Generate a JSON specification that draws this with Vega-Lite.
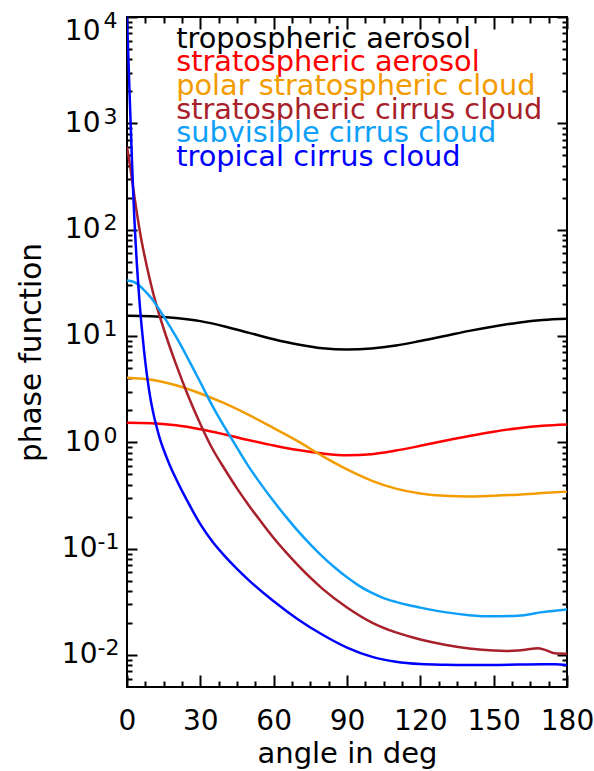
{
  "$schema": "https://vega.github.io/schema/vega-lite/v6.json",
  "width": 440,
  "height": 670,
  "autosize": {"type": "none"},
  "padding": {"left": 127, "top": 17, "right": 27, "bottom": 84},
  "background": "white",
  "config": {
    "view": {"stroke": "black", "strokeWidth": 2},
    "font": "DejaVu Sans",
    "axis": {
      "grid": false,
      "domain": false,
      "tickColor": "black",
      "tickWidth": 2,
      "labelColor": "black",
      "titleColor": "black",
      "titleFontWeight": "normal",
      "labelFont": "DejaVu Sans",
      "titleFont": "DejaVu Sans"
    }
  },
  "datasets": {
    "names": [
      {"s": "tropospheric aerosol"},
      {"s": "stratospheric aerosol"},
      {"s": "polar stratospheric cloud"},
      {"s": "stratospheric cirrus cloud"},
      {"s": "subvisible cirrus cloud"},
      {"s": "tropical cirrus cloud"}
    ],
    "curves": [
      {"s": "tropospheric aerosol", "a": 0, "p": 15.5},
      {"s": "tropospheric aerosol", "a": 10, "p": 15.35},
      {"s": "tropospheric aerosol", "a": 20, "p": 14.8},
      {"s": "tropospheric aerosol", "a": 30, "p": 13.8},
      {"s": "tropospheric aerosol", "a": 40, "p": 12.3},
      {"s": "tropospheric aerosol", "a": 50, "p": 10.7},
      {"s": "tropospheric aerosol", "a": 60, "p": 9.33},
      {"s": "tropospheric aerosol", "a": 70, "p": 8.32},
      {"s": "tropospheric aerosol", "a": 80, "p": 7.67},
      {"s": "tropospheric aerosol", "a": 90, "p": 7.45},
      {"s": "tropospheric aerosol", "a": 100, "p": 7.62},
      {"s": "tropospheric aerosol", "a": 110, "p": 8.13},
      {"s": "tropospheric aerosol", "a": 120, "p": 8.97},
      {"s": "tropospheric aerosol", "a": 130, "p": 10.0},
      {"s": "tropospheric aerosol", "a": 140, "p": 11.17},
      {"s": "tropospheric aerosol", "a": 150, "p": 12.3},
      {"s": "tropospheric aerosol", "a": 160, "p": 13.34},
      {"s": "tropospheric aerosol", "a": 170, "p": 14.13},
      {"s": "tropospheric aerosol", "a": 180, "p": 14.52},

      {"s": "stratospheric aerosol", "a": 0, "p": 1.531},
      {"s": "stratospheric aerosol", "a": 10, "p": 1.514},
      {"s": "stratospheric aerosol", "a": 20, "p": 1.445},
      {"s": "stratospheric aerosol", "a": 30, "p": 1.327},
      {"s": "stratospheric aerosol", "a": 40, "p": 1.186},
      {"s": "stratospheric aerosol", "a": 50, "p": 1.047},
      {"s": "stratospheric aerosol", "a": 60, "p": 0.933},
      {"s": "stratospheric aerosol", "a": 70, "p": 0.845},
      {"s": "stratospheric aerosol", "a": 80, "p": 0.785},
      {"s": "stratospheric aerosol", "a": 90, "p": 0.755},
      {"s": "stratospheric aerosol", "a": 100, "p": 0.773},
      {"s": "stratospheric aerosol", "a": 110, "p": 0.836},
      {"s": "stratospheric aerosol", "a": 120, "p": 0.927},
      {"s": "stratospheric aerosol", "a": 130, "p": 1.035},
      {"s": "stratospheric aerosol", "a": 140, "p": 1.148},
      {"s": "stratospheric aerosol", "a": 150, "p": 1.259},
      {"s": "stratospheric aerosol", "a": 160, "p": 1.355},
      {"s": "stratospheric aerosol", "a": 170, "p": 1.429},
      {"s": "stratospheric aerosol", "a": 180, "p": 1.472},

      {"s": "polar stratospheric cloud", "a": 0, "p": 4.04},
      {"s": "polar stratospheric cloud", "a": 10, "p": 3.87},
      {"s": "polar stratospheric cloud", "a": 20, "p": 3.44},
      {"s": "polar stratospheric cloud", "a": 30, "p": 2.88},
      {"s": "polar stratospheric cloud", "a": 40, "p": 2.32},
      {"s": "polar stratospheric cloud", "a": 50, "p": 1.8},
      {"s": "polar stratospheric cloud", "a": 60, "p": 1.36},
      {"s": "polar stratospheric cloud", "a": 70, "p": 1.02},
      {"s": "polar stratospheric cloud", "a": 80, "p": 0.741},
      {"s": "polar stratospheric cloud", "a": 90, "p": 0.556},
      {"s": "polar stratospheric cloud", "a": 100, "p": 0.437},
      {"s": "polar stratospheric cloud", "a": 110, "p": 0.367},
      {"s": "polar stratospheric cloud", "a": 120, "p": 0.33},
      {"s": "polar stratospheric cloud", "a": 130, "p": 0.314},
      {"s": "polar stratospheric cloud", "a": 140, "p": 0.31},
      {"s": "polar stratospheric cloud", "a": 150, "p": 0.315},
      {"s": "polar stratospheric cloud", "a": 160, "p": 0.322},
      {"s": "polar stratospheric cloud", "a": 170, "p": 0.333},
      {"s": "polar stratospheric cloud", "a": 180, "p": 0.344},

      {"s": "stratospheric cirrus cloud", "a": 0, "p": 600},
      {"s": "stratospheric cirrus cloud", "a": 1, "p": 434.5},
      {"s": "stratospheric cirrus cloud", "a": 2, "p": 300.6},
      {"s": "stratospheric cirrus cloud", "a": 3, "p": 208},
      {"s": "stratospheric cirrus cloud", "a": 4, "p": 145.5},
      {"s": "stratospheric cirrus cloud", "a": 5, "p": 104.2},
      {"s": "stratospheric cirrus cloud", "a": 6, "p": 77.3},
      {"s": "stratospheric cirrus cloud", "a": 8, "p": 46.6},
      {"s": "stratospheric cirrus cloud", "a": 10, "p": 29.4},
      {"s": "stratospheric cirrus cloud", "a": 12, "p": 19.6},
      {"s": "stratospheric cirrus cloud", "a": 15, "p": 11.7},
      {"s": "stratospheric cirrus cloud", "a": 20, "p": 5.46},
      {"s": "stratospheric cirrus cloud", "a": 25, "p": 2.74},
      {"s": "stratospheric cirrus cloud", "a": 30, "p": 1.49},
      {"s": "stratospheric cirrus cloud", "a": 35, "p": 0.865},
      {"s": "stratospheric cirrus cloud", "a": 40, "p": 0.558},
      {"s": "stratospheric cirrus cloud", "a": 45, "p": 0.369},
      {"s": "stratospheric cirrus cloud", "a": 50, "p": 0.252},
      {"s": "stratospheric cirrus cloud", "a": 55, "p": 0.177},
      {"s": "stratospheric cirrus cloud", "a": 60, "p": 0.126},
      {"s": "stratospheric cirrus cloud", "a": 65, "p": 0.0927},
      {"s": "stratospheric cirrus cloud", "a": 70, "p": 0.0695},
      {"s": "stratospheric cirrus cloud", "a": 80, "p": 0.0419},
      {"s": "stratospheric cirrus cloud", "a": 90, "p": 0.028},
      {"s": "stratospheric cirrus cloud", "a": 100, "p": 0.0203},
      {"s": "stratospheric cirrus cloud", "a": 110, "p": 0.0163},
      {"s": "stratospheric cirrus cloud", "a": 120, "p": 0.014},
      {"s": "stratospheric cirrus cloud", "a": 130, "p": 0.0125},
      {"s": "stratospheric cirrus cloud", "a": 140, "p": 0.01153},
      {"s": "stratospheric cirrus cloud", "a": 150, "p": 0.0110},
      {"s": "stratospheric cirrus cloud", "a": 155, "p": 0.01091},
      {"s": "stratospheric cirrus cloud", "a": 160, "p": 0.0110},
      {"s": "stratospheric cirrus cloud", "a": 165, "p": 0.0114},
      {"s": "stratospheric cirrus cloud", "a": 168, "p": 0.01156},
      {"s": "stratospheric cirrus cloud", "a": 171, "p": 0.01117},
      {"s": "stratospheric cirrus cloud", "a": 175, "p": 0.01038},
      {"s": "stratospheric cirrus cloud", "a": 180, "p": 0.01028},

      {"s": "subvisible cirrus cloud", "a": 0, "p": 33.3},
      {"s": "subvisible cirrus cloud", "a": 2.5, "p": 32.4},
      {"s": "subvisible cirrus cloud", "a": 5, "p": 29.9},
      {"s": "subvisible cirrus cloud", "a": 7.5, "p": 26.3},
      {"s": "subvisible cirrus cloud", "a": 10, "p": 22.6},
      {"s": "subvisible cirrus cloud", "a": 12.5, "p": 18.8},
      {"s": "subvisible cirrus cloud", "a": 15, "p": 15.3},
      {"s": "subvisible cirrus cloud", "a": 20, "p": 9.9},
      {"s": "subvisible cirrus cloud", "a": 25, "p": 6.1},
      {"s": "subvisible cirrus cloud", "a": 30, "p": 3.67},
      {"s": "subvisible cirrus cloud", "a": 35, "p": 2.19},
      {"s": "subvisible cirrus cloud", "a": 40, "p": 1.38},
      {"s": "subvisible cirrus cloud", "a": 45, "p": 0.891},
      {"s": "subvisible cirrus cloud", "a": 50, "p": 0.582},
      {"s": "subvisible cirrus cloud", "a": 55, "p": 0.398},
      {"s": "subvisible cirrus cloud", "a": 60, "p": 0.279},
      {"s": "subvisible cirrus cloud", "a": 65, "p": 0.2},
      {"s": "subvisible cirrus cloud", "a": 70, "p": 0.146},
      {"s": "subvisible cirrus cloud", "a": 75, "p": 0.1096},
      {"s": "subvisible cirrus cloud", "a": 80, "p": 0.0841},
      {"s": "subvisible cirrus cloud", "a": 85, "p": 0.0664},
      {"s": "subvisible cirrus cloud", "a": 90, "p": 0.0537},
      {"s": "subvisible cirrus cloud", "a": 95, "p": 0.0447},
      {"s": "subvisible cirrus cloud", "a": 100, "p": 0.0385},
      {"s": "subvisible cirrus cloud", "a": 105, "p": 0.0343},
      {"s": "subvisible cirrus cloud", "a": 110, "p": 0.0316},
      {"s": "subvisible cirrus cloud", "a": 115, "p": 0.0295},
      {"s": "subvisible cirrus cloud", "a": 120, "p": 0.0279},
      {"s": "subvisible cirrus cloud", "a": 130, "p": 0.0253},
      {"s": "subvisible cirrus cloud", "a": 140, "p": 0.0237},
      {"s": "subvisible cirrus cloud", "a": 150, "p": 0.0231},
      {"s": "subvisible cirrus cloud", "a": 160, "p": 0.0234},
      {"s": "subvisible cirrus cloud", "a": 170, "p": 0.0253},
      {"s": "subvisible cirrus cloud", "a": 180, "p": 0.0268},

      {"s": "tropical cirrus cloud", "a": 0, "p": 10000},
      {"s": "tropical cirrus cloud", "a": 0.5, "p": 4571},
      {"s": "tropical cirrus cloud", "a": 1, "p": 2089},
      {"s": "tropical cirrus cloud", "a": 1.5, "p": 977},
      {"s": "tropical cirrus cloud", "a": 2, "p": 468},
      {"s": "tropical cirrus cloud", "a": 2.5, "p": 234},
      {"s": "tropical cirrus cloud", "a": 3, "p": 129},
      {"s": "tropical cirrus cloud", "a": 3.5, "p": 77.6},
      {"s": "tropical cirrus cloud", "a": 4, "p": 49},
      {"s": "tropical cirrus cloud", "a": 4.5, "p": 33.1},
      {"s": "tropical cirrus cloud", "a": 5, "p": 22.9},
      {"s": "tropical cirrus cloud", "a": 5.5, "p": 16.4},
      {"s": "tropical cirrus cloud", "a": 6, "p": 12.2},
      {"s": "tropical cirrus cloud", "a": 7, "p": 7.16},
      {"s": "tropical cirrus cloud", "a": 8, "p": 4.57},
      {"s": "tropical cirrus cloud", "a": 9, "p": 3.13},
      {"s": "tropical cirrus cloud", "a": 10, "p": 2.29},
      {"s": "tropical cirrus cloud", "a": 11, "p": 1.78},
      {"s": "tropical cirrus cloud", "a": 12, "p": 1.43},
      {"s": "tropical cirrus cloud", "a": 13.5, "p": 1.07},
      {"s": "tropical cirrus cloud", "a": 15, "p": 0.851},
      {"s": "tropical cirrus cloud", "a": 17.5, "p": 0.61},
      {"s": "tropical cirrus cloud", "a": 20, "p": 0.457},
      {"s": "tropical cirrus cloud", "a": 25, "p": 0.272},
      {"s": "tropical cirrus cloud", "a": 30, "p": 0.17},
      {"s": "tropical cirrus cloud", "a": 35, "p": 0.116},
      {"s": "tropical cirrus cloud", "a": 40, "p": 0.0851},
      {"s": "tropical cirrus cloud", "a": 45, "p": 0.0646},
      {"s": "tropical cirrus cloud", "a": 50, "p": 0.0501},
      {"s": "tropical cirrus cloud", "a": 60, "p": 0.032},
      {"s": "tropical cirrus cloud", "a": 70, "p": 0.0216},
      {"s": "tropical cirrus cloud", "a": 80, "p": 0.0155},
      {"s": "tropical cirrus cloud", "a": 90, "p": 0.01175},
      {"s": "tropical cirrus cloud", "a": 100, "p": 0.00966},
      {"s": "tropical cirrus cloud", "a": 110, "p": 0.00865},
      {"s": "tropical cirrus cloud", "a": 120, "p": 0.00822},
      {"s": "tropical cirrus cloud", "a": 130, "p": 0.00809},
      {"s": "tropical cirrus cloud", "a": 140, "p": 0.00804},
      {"s": "tropical cirrus cloud", "a": 150, "p": 0.00804},
      {"s": "tropical cirrus cloud", "a": 160, "p": 0.00813},
      {"s": "tropical cirrus cloud", "a": 170, "p": 0.00818},
      {"s": "tropical cirrus cloud", "a": 175, "p": 0.00818},
      {"s": "tropical cirrus cloud", "a": 180, "p": 0.00804}
    ]
  },
  "layer": [
    {
      "data": {"name": "curves"},
      "layer": [
        {
          "mark": {"type": "line", "interpolate": "monotone", "strokeWidth": 2.5, "clip": true},
          "encoding": {
            "x": {
              "field": "a", "type": "quantitative",
              "scale": {"domain": [0, 180], "nice": false, "zero": false},
              "axis": {
                "orient": "bottom", "values": [0, 30, 60, 90, 120, 150, 180],
                "ticks": false, "labelPadding": 20, "labelFontSize": 28, "labelFlush": false,
                "labelOverlap": false,
                "title": "angle in deg", "titleFontSize": 29, "titlePadding": 4
              }
            },
            "y": {
              "field": "p", "type": "quantitative",
              "scale": {"type": "log", "domain": [0.005, 10000], "nice": false},
              "axis": {
                "orient": "left", "values": [0.01, 0.1, 1, 10, 100, 1000, 10000],
                "labelExpr": "'10'", "ticks": false,
                "labelPadding": {"condition": {"test": "datum.value < 0.5", "value": 30}, "value": 27},
                "labelFontSize": 28,
                "labelFlush": true, "labelOverlap": false,
                "title": "phase function", "titleFontSize": 29.5, "titlePadding": 15
              }
            },
            "color": {
              "field": "s", "type": "nominal",
              "scale": {
                "domain": ["tropospheric aerosol", "stratospheric aerosol", "polar stratospheric cloud", "stratospheric cirrus cloud", "subvisible cirrus cloud", "tropical cirrus cloud"],
                "range": ["#000000", "#FF0000", "#F39C00", "#A8212A", "#0EA0F8", "#0000FF"]
              },
              "legend": null
            }
          }
        },
        {
          "mark": {"type": "point", "opacity": 0},
          "encoding": {
            "x": {"field": "a", "type": "quantitative",
              "axis": {"orient": "bottom", "offset": -12, "values": [0, 30, 60, 90, 120, 150, 180], "tickSize": 12, "labels": false, "title": null}},
            "y": {"field": "p", "type": "quantitative",
              "axis": {"orient": "left", "offset": -10, "values": [0.01, 0.1, 1, 10, 100, 1000, 10000], "tickSize": 10, "labels": false, "title": null}}
          }
        },
        {
          "mark": {"type": "point", "opacity": 0},
          "encoding": {
            "x": {"field": "a", "type": "quantitative",
              "axis": {"orient": "bottom", "offset": -6, "values": [7.5, 15, 22.5, 37.5, 45, 52.5, 67.5, 75, 82.5, 97.5, 105, 112.5, 127.5, 135, 142.5, 157.5, 165, 172.5], "tickSize": 6, "labels": false, "title": null}},
            "y": {"field": "p", "type": "quantitative",
              "axis": {"orient": "left", "offset": -5, "values": [0.006, 0.007, 0.008, 0.009, 0.02, 0.03, 0.04, 0.05, 0.06, 0.07, 0.08, 0.09, 0.2, 0.3, 0.4, 0.5, 0.6, 0.7, 0.8, 0.9, 2, 3, 4, 5, 6, 7, 8, 9, 20, 30, 40, 50, 60, 70, 80, 90, 200, 300, 400, 500, 600, 700, 800, 900, 2000, 3000, 4000, 5000, 6000, 7000, 8000, 9000], "tickSize": 5, "labels": false, "title": null}}
          }
        },
        {
          "mark": {"type": "point", "opacity": 0},
          "encoding": {
            "x": {"field": "a", "type": "quantitative",
              "axis": {"orient": "top", "offset": -12, "values": [0, 30, 60, 90, 120, 150, 180], "tickSize": 12, "labels": false, "title": null}},
            "y": {"field": "p", "type": "quantitative",
              "axis": {"orient": "right", "offset": -10, "values": [0.01, 0.1, 1, 10, 100, 1000, 10000], "tickSize": 10, "labels": false, "title": null}}
          }
        },
        {
          "mark": {"type": "point", "opacity": 0},
          "encoding": {
            "x": {"field": "a", "type": "quantitative",
              "axis": {"orient": "top", "offset": -6, "values": [7.5, 15, 22.5, 37.5, 45, 52.5, 67.5, 75, 82.5, 97.5, 105, 112.5, 127.5, 135, 142.5, 157.5, 165, 172.5], "tickSize": 6, "labels": false, "title": null}},
            "y": {"field": "p", "type": "quantitative",
              "axis": {"orient": "right", "offset": -5, "values": [0.006, 0.007, 0.008, 0.009, 0.02, 0.03, 0.04, 0.05, 0.06, 0.07, 0.08, 0.09, 0.2, 0.3, 0.4, 0.5, 0.6, 0.7, 0.8, 0.9, 2, 3, 4, 5, 6, 7, 8, 9, 20, 30, 40, 50, 60, 70, 80, 90, 200, 300, 400, 500, 600, 700, 800, 900, 2000, 3000, 4000, 5000, 6000, 7000, 8000, 9000], "tickSize": 5, "labels": false, "title": null}}
          }
        },
        {
          "mark": {"type": "point", "opacity": 0},
          "encoding": {
            "y": {"field": "p", "type": "quantitative",
              "axis": {"orient": "left", "values": [0.01, 0.1, 1, 10, 100, 1000, 10000],
                "labelExpr": "datum.value >= 9999 ? '4' : datum.value >= 999 ? '3' : datum.value >= 99 ? '2' : datum.value >= 9 ? '1' : datum.value >= 0.9 ? '0' : datum.value >= 0.09 ? '-1' : '-2'",
                "ticks": false,
                "labelPadding": {"condition": {"test": "datum.value < 0.5", "value": 8}, "value": 10},
                "labelFontSize": 22, "labelFlush": true, "labelOverlap": false,
                "labelOffset": -7, "title": null}}
          }
        }
      ],
      "resolve": {"axis": {"x": "independent", "y": "independent"}}
    },
    {
      "data": {"name": "names"},
      "mark": {"type": "text", "align": "left", "baseline": "middle", "fontSize": 28.8, "font": "DejaVu Sans"},
      "encoding": {
        "x": {"datum": 20.1, "type": "quantitative", "axis": null},
        "y": {
          "field": "s", "type": "nominal", "axis": null, "sort": null,
          "scale": {"type": "point", "padding": 0, "range": [21.5, 140],
            "domain": ["tropospheric aerosol", "stratospheric aerosol", "polar stratospheric cloud", "stratospheric cirrus cloud", "subvisible cirrus cloud", "tropical cirrus cloud"]}
        },
        "text": {"field": "s"},
        "color": {"field": "s", "type": "nominal", "legend": null}
      }
    }
  ],
  "resolve": {"scale": {"y": "independent"}, "axis": {"x": "independent", "y": "independent"}}
}
